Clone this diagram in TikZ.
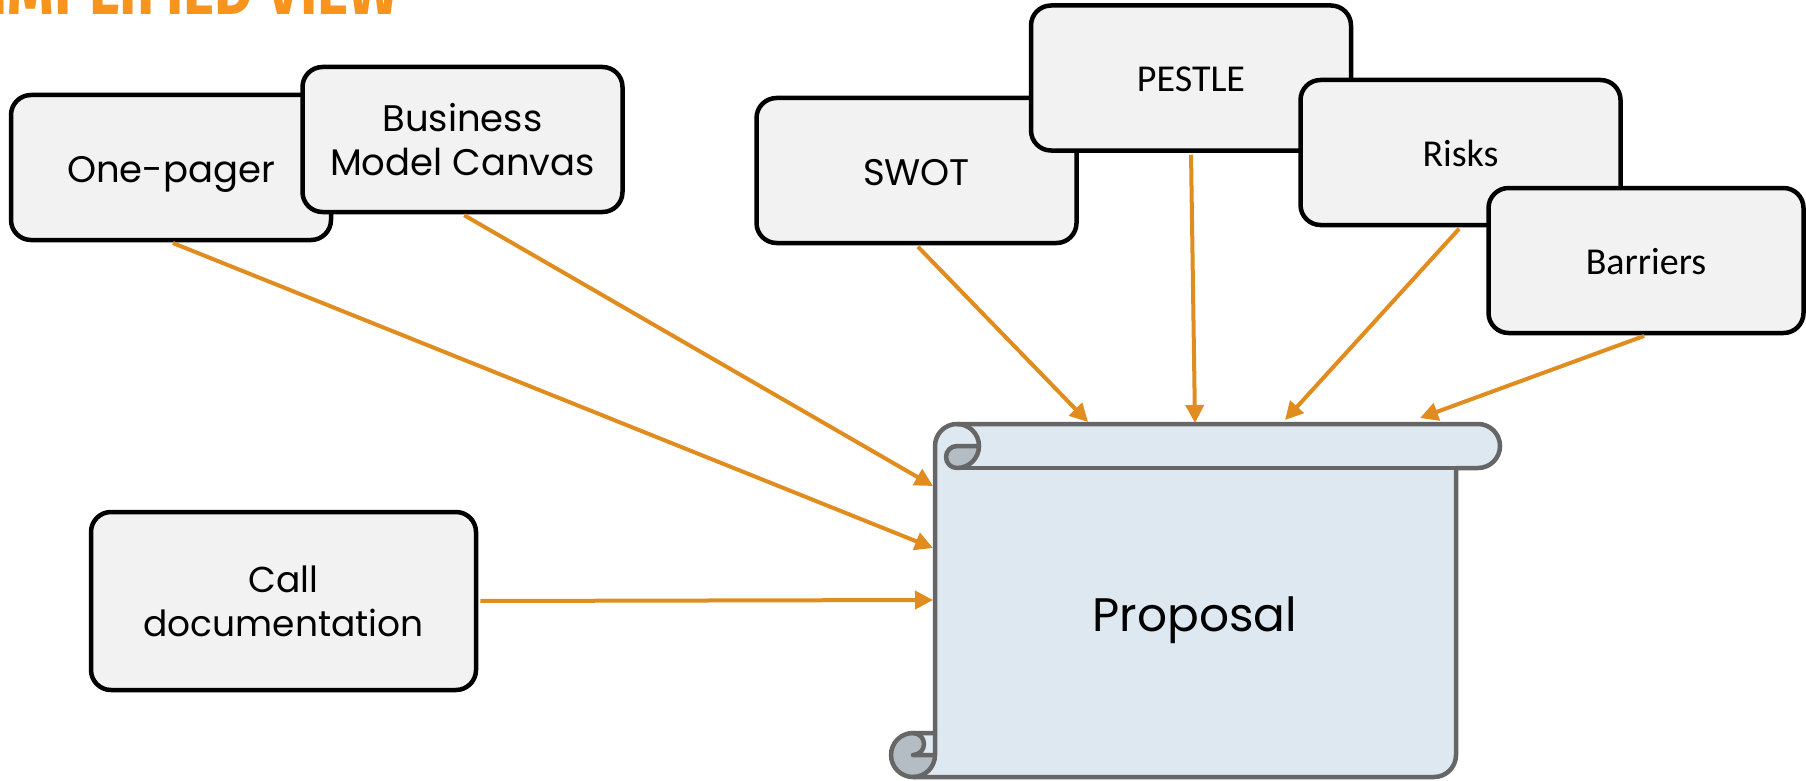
\documentclass[tikz,border=0pt]{standalone}
\usepackage{fontspec}
\setmainfont{Poppins}
\newfontfamily\calfont{Carlito}
\newfontfamily\titlefont{Fira Sans}
\usetikzlibrary{arrows.meta}
\definecolor{arroworange}{HTML}{E08C1E}
\definecolor{titleorange}{HTML}{F7941D}
\definecolor{boxfill}{HTML}{F2F2F2}
\definecolor{scrollfill}{HTML}{DDE8F0}
\definecolor{scrolldark}{HTML}{B4BCC4}
\definecolor{scrolledge}{HTML}{666666}
\tikzset{
  stepbox/.style={draw=black, line width=4.5pt, fill=boxfill, rounded corners=20pt,
    minimum width=320pt, minimum height=145pt, align=center, inner sep=0pt,
    font=\fontsize{37}{44}\selectfont},
  onebox/.style={stepbox, text height=32pt, text depth=1.5pt},
  calbox/.style={stepbox, font=\calfont\fontsize{38}{46}\selectfont,
    text height=27.5pt, text depth=0pt},
  feed/.style={draw=arroworange, line width=4pt, shorten <=2pt,
    -{Triangle[length=18pt,width=18pt]}},
  scrollstroke/.style={draw=scrolledge, line width=4.5pt, line join=round},
}
\begin{document}
\begin{tikzpicture}[x=1pt,y=-1pt]
\fill[white] (0,0) rectangle (1806,781);
\useasboundingbox (0,0) rectangle (1806,781);
\begin{scope}
  \clip (0,0) rectangle (1806,781);
  \node[anchor=base east, inner sep=0pt, text=titleorange,
    font=\titlefont\bfseries\fontsize{72}{72}\selectfont] (title) at (399,15)
    {\scalebox{0.82}[1]{SIMPLIFIED VIEW}};
\end{scope}

% scroll (Proposal)
\fill[scrollfill] (913,777) arc[start angle=-90,end angle=0,radius=22pt] -- (913,755)
  arc[start angle=-90,end angle=-270,radius=11pt] -- (935,733) -- (935,446)
  arc[start angle=180,end angle=90,radius=22pt] -- (1478,424)
  arc[start angle=90,end angle=-90,radius=22pt] -- (1456,468) -- (1456,755)
  arc[start angle=0,end angle=-90,radius=22pt] -- cycle;
\fill[scrolldark] (979,446) arc[start angle=0,end angle=-90,radius=22pt]
  arc[start angle=-90,end angle=-270,radius=11pt] -- cycle;
\fill[scrolldark] (935,755) arc[start angle=0,end angle=-270,radius=22pt]
  arc[start angle=90,end angle=-90,radius=11pt] -- cycle;
\path[scrollstroke] (935,733) -- (935,446) arc[start angle=180,end angle=90,radius=22pt]
  -- (1478,424) arc[start angle=90,end angle=-90,radius=22pt] -- (1456,468) -- (1456,755)
  arc[start angle=0,end angle=-90,radius=22pt] -- (913,777)
  arc[start angle=-90,end angle=-270,radius=22pt] -- cycle;
\path[scrollstroke] (957,424) arc[start angle=90,end angle=-90,radius=22pt]
  arc[start angle=-90,end angle=-270,radius=11pt] -- (979,446);
\path[scrollstroke] (1456,468) -- (957,468);
\path[scrollstroke] (913,733) arc[start angle=90,end angle=-90,radius=11pt] -- (935,755);
\path[scrollstroke] (913,777) arc[start angle=-90,end angle=0,radius=22pt] -- (935,733);
\node[anchor=base, inner sep=0pt, font=\fontsize{47}{56}\selectfont] (proposal) at (1195,631) {Proposal};

% arrow targets on the scroll
\coordinate (t1) at (933,548);
\coordinate (t2) at (933,486);
\coordinate (t3) at (933,600);
\coordinate (t4) at (1088,422);
\coordinate (t5) at (1195,423);
\coordinate (t6) at (1285,420);
\coordinate (t7) at (1420,418);

% boxes
\node[onebox] (onepager) at (171,167.5) {One-pager};
\node[stepbox] (bmc) at (462.5,139.5) {Business\\Model Canvas};
\node[onebox] (swot) at (916.5,170.5) {SWOT};
\node[calbox] (pestle) at (1191,78) {PESTLE};
\node[calbox] (risks) at (1460.5,152.5) {Risks};
\node[calbox, minimum width=315pt] (barriers) at (1646,260.5) {Barriers};
\node[stepbox, minimum width=385pt, minimum height=178pt, font=\fontsize{36}{44}\selectfont] (call) at (283.5,601) {Call\\documentation};

% connectors
\draw[feed] (onepager.south) -- (t1);
\draw[feed] (bmc.south) -- (t2);
\draw[feed] (call.east) -- (t3);
\draw[feed] (swot.south) -- (t4);
\draw[feed] (pestle.south) -- (t5);
\draw[feed] (risks.south) -- (t6);
\draw[feed] (barriers.south) -- (t7);
\end{tikzpicture}
\end{document}
